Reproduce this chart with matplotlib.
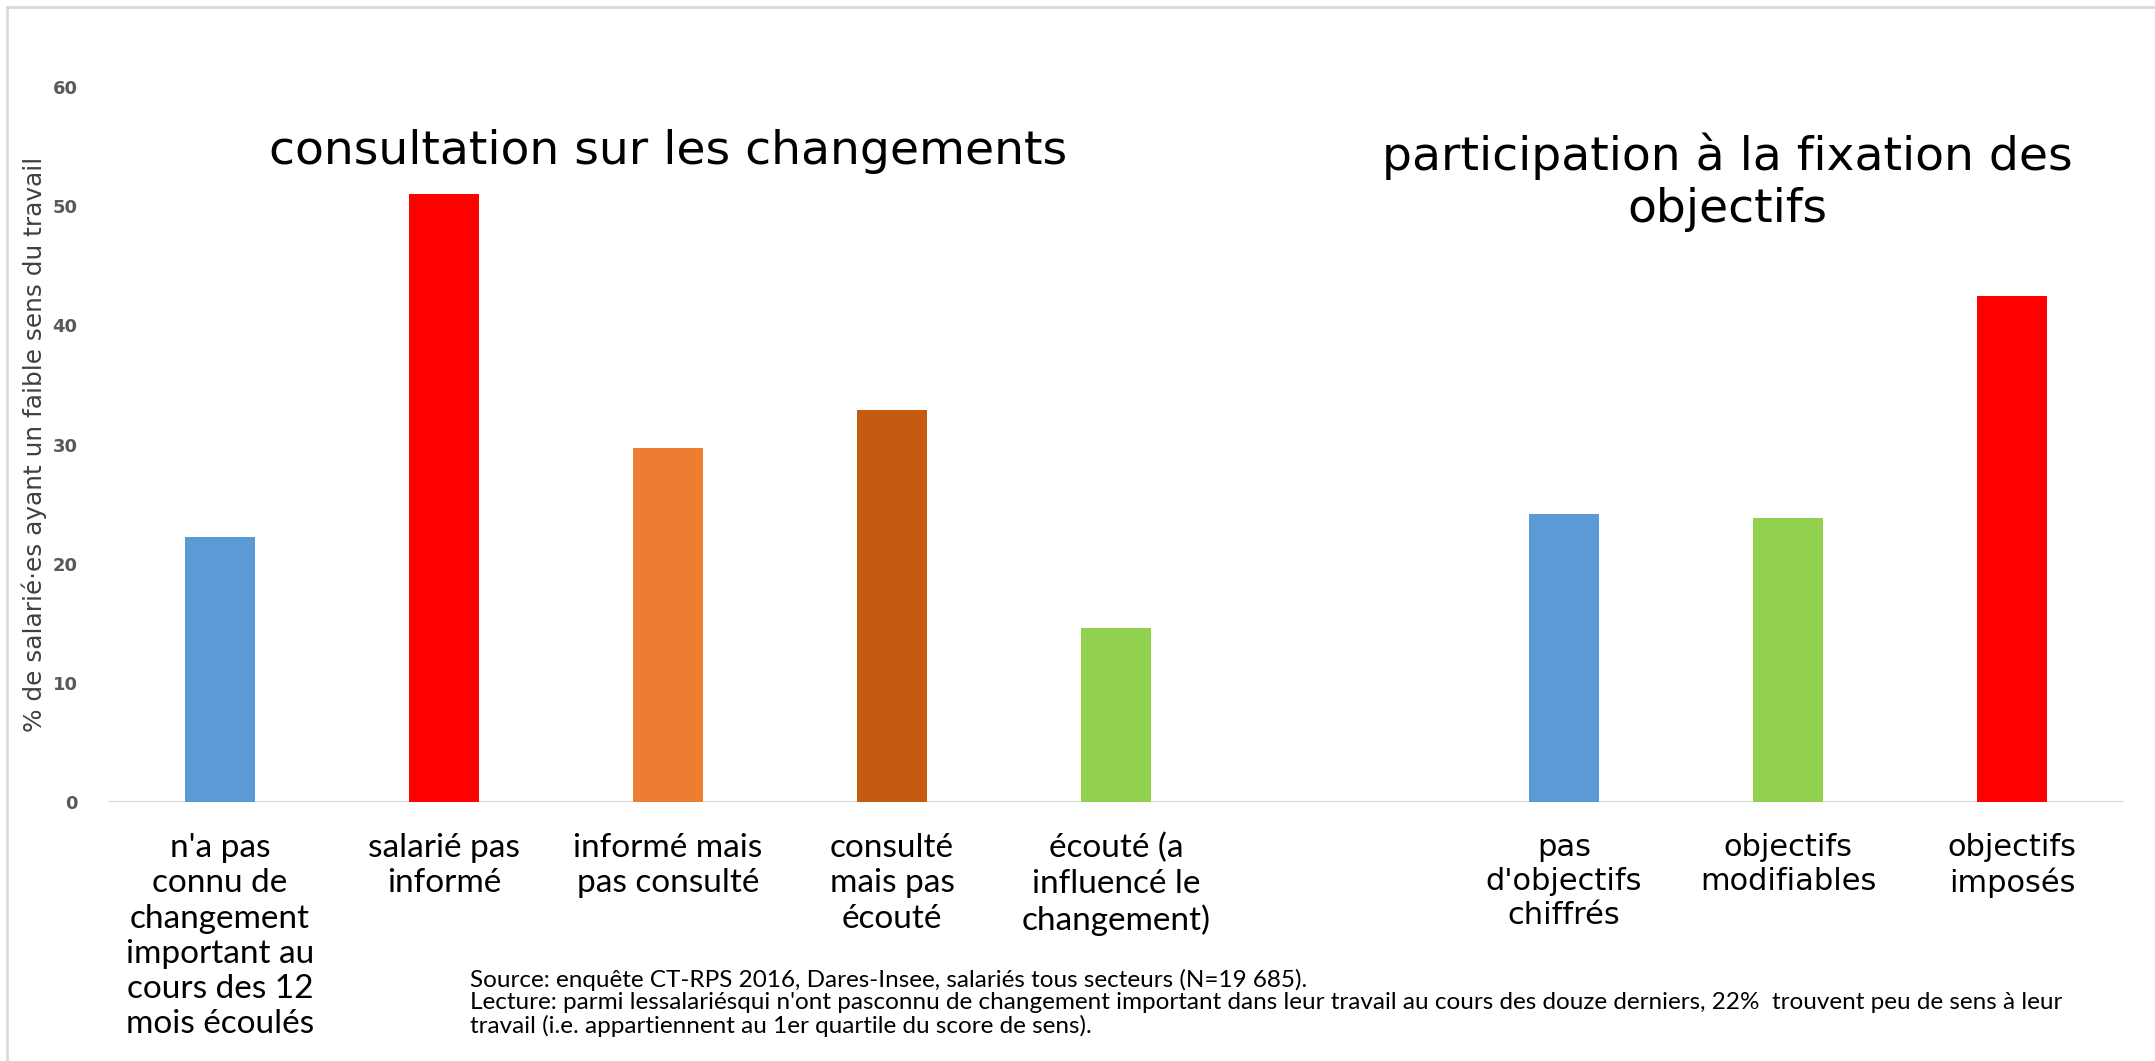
import matplotlib
matplotlib.use("Agg")
import matplotlib.pyplot as plt
from matplotlib.lines import Line2D

categories = [
    "n'a pas\nconnu de\nchangement\nimportant au\ncours des 12\nmois écoulés",
    "salarié pas\ninformé",
    "informé mais\npas consulté",
    "consulté\nmais pas\nécouté",
    "écouté (a\ninfluencé le\nchangement)",
    "",
    "pas\nd'objectifs\nchiffrés",
    "objectifs\nmodifiables",
    "objectifs\nimposés",
]
values = [22.2, 51.0, 29.7, 32.9, 14.6, None, 24.2, 23.8, 42.5]
colors = ["#5B9BD5", "#FF0000", "#ED7D31", "#C55A11", "#92D050", "white",
          "#5B9BD5", "#92D050", "#FF0000"]
yticks = [0, 10, 20, 30, 40, 50, 60]
ylabel = "% de salarié·es ayant un faible sens du travail"
title_left = "consultation sur les changements"
title_right = "participation à la fixation des\nobjectifs"
source = ("Source: enquête CT-RPS 2016, Dares-Insee, salariés tous secteurs (N=19 685).\n"
          "Lecture: parmi lessalariésqui n'ont pasconnu de changement important dans leur travail au cours des douze derniers, 22%  trouvent peu de sens à leur\n"
          "travail (i.e. appartiennent au 1er quartile du score de sens).")

W, H = 2155, 1061
fig = plt.figure(figsize=(W / 100, H / 100), dpi=100)
fig.patch.set_facecolor("white")

# axes: x from 108 to 2124 px, y from 802 (0) to 87 (60)
ax = fig.add_axes([108 / W, 1 - 802 / H, (2124 - 108) / W, (802 - 87) / H])
xs = list(range(len(categories)))
for x, v, c in zip(xs, values, colors):
    if v is not None:
        ax.bar(x, v, width=0.31, color=c, zorder=2)

ax.set_xlim(-0.5, 8.5)
ax.set_ylim(0, 60)
for s in ax.spines.values():
    s.set_visible(False)
ax.axhline(0, color="#D9D9D9", lw=1.5, zorder=1)
ax.set_yticks(yticks)
ax.set_yticklabels([str(t) for t in yticks], fontsize=13, color="#595959",
                   family=["DejaVu Sans"], fontweight="semibold")
ax.tick_params(axis="y", length=0, pad=22)
ax.set_xticks([])

# x labels
for x, lab in zip(xs, categories):
    if not lab:
        continue
    if x < 5:
        ax.text(x, -2.6, lab, ha="center", va="top", fontsize=24,
                family=["Lato", "DejaVu Sans"],
                color="black", linespacing=1.22)
    else:
        ax.text(x, -2.6, lab, ha="center", va="top", fontsize=22,
                family=["DejaVu Sans"], color="black", linespacing=1.22)

ax.text(2.0, 54.6, title_left, ha="center", va="center", fontsize=34,
        family=["DejaVu Sans"], color="black")
ax.text(6.73, 52.0, title_right, ha="center", va="center", fontsize=34,
        family=["DejaVu Sans"], color="black", linespacing=1.2)

fig.text(34 / W, 1 - 444 / H, ylabel, rotation=90, ha="center", va="center",
         fontsize=17.8, family=["DejaVu Sans"],
         color="#404040")

fig.text(470 / W, 1 - 1003 / H, source, ha="left", va="center", fontsize=17.5,
         family=["Lato", "DejaVu Sans"], color="black",
         linespacing=1.08)

# light frame on left and top
fig.add_artist(Line2D([7 / W, 7 / W], [0, 1 - 7 / H], transform=fig.transFigure,
                      color="#D9D9D9", lw=2))
fig.add_artist(Line2D([7 / W, 1], [1 - 7 / H, 1 - 7 / H], transform=fig.transFigure,
                      color="#D9D9D9", lw=2))

fig.savefig("out.png", dpi=100, facecolor="white")
